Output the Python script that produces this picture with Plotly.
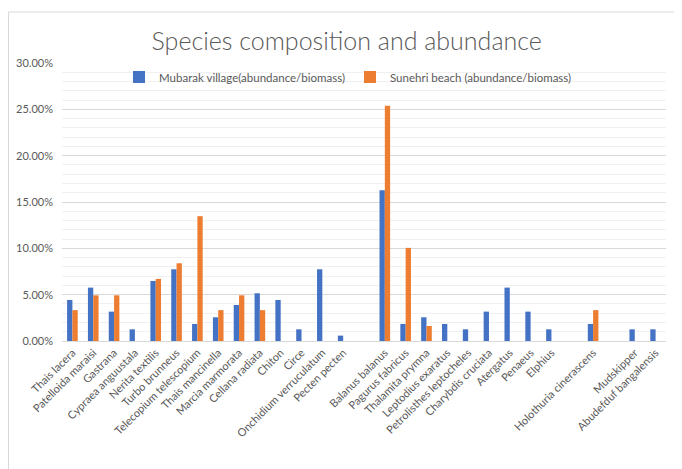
import plotly.graph_objects as go

categories = [
    "Thais lacera", "Patelloida maraisi", "Gastrana", "Cypraea anguustala",
    "Nerita textilis", "Turbo brunneus", "Telecopium telescopium",
    "Thais mancinella", "Marcia marmorata", "Cellana radiata", "Chiton",
    "Circe", "Onchidium verruculatum", "Pecten pecten", " ",
    "Balanus balanus", "Pagurus fabricus", "Thalamita prymna",
    "Leptodius exaratus", "Petrolisthes leptocheles", "Charybdis cruciata",
    "Atergatus", "Penaeus", "Elphius", "  ", "Holothuria cinerascens",
    "   ", "Mudskipper", "Abudefduf bangalensis",
]

mubarak = [
    0.0443, 0.0576, 0.0317, 0.0126, 0.0648, 0.0774, 0.0184, 0.0256, 0.0389,
    0.0515, 0.0443, 0.0126, 0.0774, 0.0058, None,
    0.1628, 0.0184, 0.0256, 0.0184, 0.0126, 0.0317, 0.0576, 0.0317, 0.0126,
    None, 0.0184, None, 0.0126, 0.0126,
]

sunehri = [
    0.0333, 0.0493, 0.0493, None, 0.0670, 0.0839, 0.1347, 0.0333, 0.0493,
    0.0333, None, None, None, None, None,
    0.2539, 0.1005, 0.0162, None, None, None, None, None, None,
    None, 0.0333, None, None, None,
]

series_names = ["Mubarak village(abundance/biomass)", "Sunehri beach (abundance/biomass)"]
colors = ["#4472C4", "#ED7D31"]
ytick_vals = [0, 0.05, 0.10, 0.15, 0.20, 0.25, 0.30]

# page body has an 8px margin, so the figure is laid out 8px smaller / shifted
W, H = 674, 461
L, R, T, B = 54, 16, 55, 128
pw, ph = W - L - R, H - T - B

fig = go.Figure()
for name, vals, col in zip(series_names, [mubarak, sunehri], colors):
    fig.add_trace(go.Bar(x=categories, y=vals, name=name, marker_color=col,
                         marker_line_width=0))

font_family = "Lato, 'Open Sans', sans-serif"
gray = "#595959"

fig.update_layout(
    width=W, height=H,
    margin=dict(l=L, r=R, t=T, b=B, autoexpand=False),
    paper_bgcolor="white", plot_bgcolor="white",
    barmode="group", bargap=0.49, bargroupgap=0,
    font=dict(family=font_family, color=gray, size=11),
    title=dict(text="Species composition and abundance", x=338.7 / W, xref="container",
               xanchor="center", y=1 - 33 / H, yref="container", yanchor="middle",
               font=dict(size=25, color=gray, family=font_family, weight=300)),
    legend=dict(orientation="h", x=(340 - L) / pw, xanchor="center",
                y=(H - B - 69) / ph, yanchor="middle", bgcolor="rgba(0,0,0,0)",
                font=dict(size=11.5, color=gray), itemwidth=30, traceorder="normal"),
    xaxis=dict(type="category", tickangle=-45, showline=True, linecolor="#d9d9d9",
               linewidth=1, ticks="", showgrid=False, automargin=False,
               tickfont=dict(size=11, color=gray)),
    yaxis=dict(range=[0, 0.30], tickvals=ytick_vals, tickformat=".2%",
               showgrid=True, gridcolor="#d9d9d9", gridwidth=1, zeroline=False,
               showline=False, ticks="", automargin=False, ticklabelstandoff=8,
               tickfont=dict(size=11, color=gray),
               minor=dict(dtick=0.01, showgrid=True, gridcolor="#f0f0f0", gridwidth=1)),
)

# chart frame
fig.add_shape(type="rect", xref="paper", yref="paper", layer="below",
              x0=(0.5 - L) / pw, x1=(W + 5 - L) / pw,
              y0=(H - B - (H + 5)) / ph, y1=(H - B - 4) / ph,
              line=dict(color="#d9d9d9", width=1), fillcolor="rgba(0,0,0,0)")

fig.write_html("out.html")
